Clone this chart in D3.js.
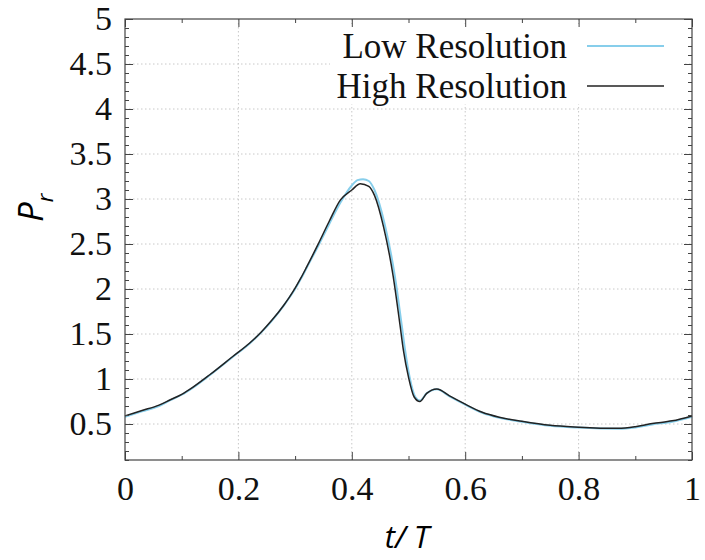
<!DOCTYPE html>
<html>
<head>
<meta charset="utf-8">
<script src="https://cdn.jsdelivr.net/npm/d3@7"></script>
<style>
body { margin: 0; background: #fff; }
svg { display: block; }
.tick text { font-family: "Liberation Serif", serif; font-size: 34px; fill: #111; }
</style>
</head>
<body>
<svg id="chart" width="705" height="560"></svg>
<script>
// high resolution run
const tHigh = [0, 0.03, 0.06, 0.08, 0.10, 0.12, 0.15, 0.19, 0.22, 0.24, 0.26, 0.28, 0.29, 0.30, 0.31, 0.32, 0.34, 0.36, 0.38,
	0.40, 0.415, 0.43, 0.44, 0.456, 0.473, 0.485, 0.491, 0.50, 0.51, 0.52, 0.532, 0.55, 0.573, 0.60, 0.63, 0.66,
	0.70, 0.75, 0.80, 0.87, 0.90, 0.93, 0.965, 1.0];
const pHigh = [0.59, 0.65, 0.71, 0.77, 0.83, 0.91, 1.05, 1.25, 1.40, 1.52, 1.66, 1.82, 1.91, 2.01, 2.12, 2.24, 2.49, 2.75, 2.99,
	3.10, 3.17, 3.14, 3.04, 2.69, 2.14, 1.60, 1.32, 1.02, 0.80, 0.75, 0.84, 0.89, 0.81, 0.72, 0.63, 0.575,
	0.53, 0.485, 0.465, 0.452, 0.47, 0.505, 0.535, 0.59];

// low resolution run
const tLow = [0, 0.03, 0.06, 0.08, 0.10, 0.12, 0.15, 0.19, 0.22, 0.24, 0.26, 0.28, 0.29, 0.30, 0.31, 0.32, 0.34, 0.36, 0.38,
	0.40, 0.41, 0.42, 0.43, 0.44, 0.458, 0.476, 0.488, 0.494, 0.502, 0.512, 0.52, 0.532, 0.55, 0.573, 0.60, 0.63,
	0.66, 0.70, 0.75, 0.80, 0.87, 0.90, 0.93, 0.965, 1.0];
const pLow = [0.58, 0.64, 0.70, 0.765, 0.825, 0.905, 1.045, 1.245, 1.395, 1.515, 1.655, 1.815, 1.905, 2.0, 2.11, 2.23, 2.47, 2.72, 2.96,
	3.15, 3.21, 3.22, 3.20, 3.10, 2.72, 2.14, 1.60, 1.32, 1.02, 0.80, 0.76, 0.84, 0.885, 0.805, 0.715, 0.625,
	0.57, 0.525, 0.48, 0.46, 0.447, 0.462, 0.495, 0.525, 0.58];

const xTicks = [0, 0.2, 0.4, 0.6, 0.8, 1];
const xMinor = [0.1, 0.3, 0.5, 0.7, 0.9];
const yTicks = [0.5, 1, 1.5, 2, 2.5, 3, 3.5, 4, 4.5, 5];
const yMinor = d3.range(1, 50).map(d => d / 10).filter(d => Math.round(d * 10) % 5 != 0);

const series = [
	{ name: 'Low Resolution', t: tLow, p: pLow, color: '#87ceeb', width: 2 },
	{ name: 'High Resolution', t: tHigh, p: pHigh, color: '#222', width: 1.5 }
];

const mLeft = 125, mRight = 692, mTop = 19, mBottom = 460;

var svg = d3.select('#chart');

var x = d3.scaleLinear().domain([0, 1]).range([mLeft, mRight]);
var y = d3.scaleLinear().domain([0.1, 5]).range([mBottom, mTop]);

// grid
var grid = svg.append('g')
	.attr('stroke', '#c8c8c8').attr('stroke-width', 1).attr('stroke-dasharray', '1.5,2.5');
grid.selectAll('line.gx').data(xTicks.slice(1, -1)).enter().append('line')
	.attr('x1', d => x(d)).attr('x2', d => x(d)).attr('y1', mTop).attr('y2', mBottom);
grid.selectAll('line.gy').data(yTicks.slice(0, -1)).enter().append('line')
	.attr('x1', mLeft).attr('x2', mRight).attr('y1', d => y(d)).attr('y2', d => y(d));

// curves
var line = d3.line().curve(d3.curveMonotoneX).x(d => x(d[0])).y(d => y(d[1]));
for(var s of series){
	svg.append('path')
	.datum(s.t.map((t, i) => [t, s.p[i]]))
	.attr('fill', 'none')
	.attr('stroke', s.color)
	.attr('stroke-width', s.width)
	.attr('stroke-linejoin', 'round')
	.attr('d', line);
}

// legend box (covers the grid)
var legend = svg.append('g');
legend.append('rect')
	.attr('x', 330).attr('y', 24).attr('width', 355).attr('height', 80)
	.attr('fill', '#fff');
series.forEach((s, i) => {
	var ly = 46 + i * 40;
	legend.append('text')
	.attr('x', 567).attr('y', ly).attr('dy', '0.35em')
	.attr('text-anchor', 'end')
	.style('font-family', '"Liberation Serif", serif').style('font-size', '35px').style('fill', '#111')
	.text(s.name);
	legend.append('line')
	.attr('x1', 587).attr('x2', 664).attr('y1', ly).attr('y2', ly)
	.attr('stroke', s.color).attr('stroke-width', s.width);
});

// axes: major ticks with labels, minor ticks without
function styleAxis(g){
	g.select('.domain').remove();
	g.selectAll('.tick line').attr('stroke', '#444');
}

svg.append('g').attr('transform', `translate(0,${mBottom})`)
	.call(d3.axisBottom(x).tickValues(xTicks).tickSize(-8).tickPadding(16).tickFormat(d3.format('')))
	.call(styleAxis);
svg.append('g').attr('transform', `translate(0,${mBottom})`)
	.call(d3.axisBottom(x).tickValues(xMinor).tickSize(-4).tickFormat(''))
	.call(styleAxis);
svg.append('g').attr('transform', `translate(0,${mTop})`)
	.call(d3.axisTop(x).tickValues(xTicks).tickSize(-8).tickFormat(''))
	.call(styleAxis);
svg.append('g').attr('transform', `translate(0,${mTop})`)
	.call(d3.axisTop(x).tickValues(xMinor).tickSize(-4).tickFormat(''))
	.call(styleAxis);

svg.append('g').attr('transform', `translate(${mLeft},0)`)
	.call(d3.axisLeft(y).tickValues(yTicks).tickSize(-8).tickPadding(13).tickFormat(d3.format('')))
	.call(styleAxis);
svg.append('g').attr('transform', `translate(${mLeft},0)`)
	.call(d3.axisLeft(y).tickValues(yMinor).tickSize(-4).tickFormat(''))
	.call(styleAxis);
svg.append('g').attr('transform', `translate(${mRight},0)`)
	.call(d3.axisRight(y).tickValues(yTicks).tickSize(-8).tickFormat(''))
	.call(styleAxis);
svg.append('g').attr('transform', `translate(${mRight},0)`)
	.call(d3.axisRight(y).tickValues(yMinor).tickSize(-4).tickFormat(''))
	.call(styleAxis);

// frame
svg.append('rect')
	.attr('x', mLeft).attr('y', mTop).attr('width', mRight - mLeft).attr('height', mBottom - mTop)
	.attr('fill', 'none').attr('stroke', '#444').attr('stroke-width', 1.2);

// axis titles
svg.append('text')
	.attr('x', 407).attr('y', 548)
	.attr('text-anchor', 'middle')
	.style('font-family', '"Open Sans", sans-serif').style('font-style', 'italic').style('font-size', '31px')
	.text('t/ T');

var ylab = svg.append('text')
	.attr('transform', 'translate(43,222) rotate(-90)')
	.style('font-family', '"Open Sans", sans-serif').style('font-style', 'italic').style('font-size', '35px');
ylab.append('tspan').text('P');
ylab.append('tspan').attr('dy', 10).style('font-size', '22px').text('r');
</script>
</body>
</html>
